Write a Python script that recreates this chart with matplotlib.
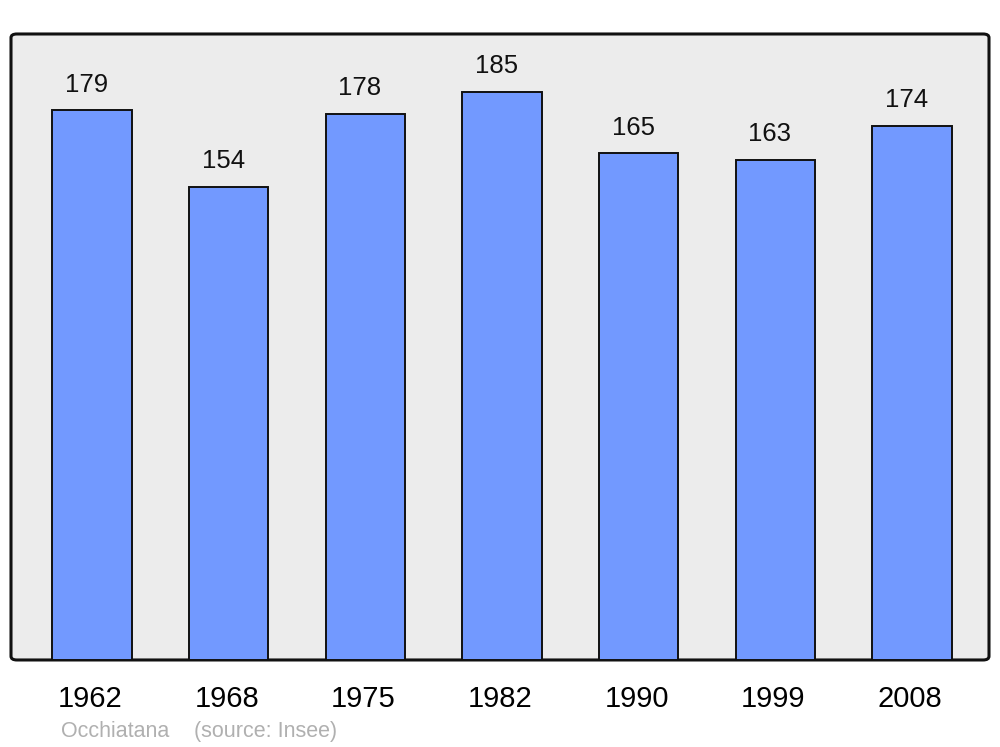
import matplotlib.pyplot as plt
import matplotlib.transforms as mtransforms
from matplotlib.patches import FancyBboxPatch

years = ['1962', '1968', '1975', '1982', '1990', '1999', '2008']
population = [179, 154, 178, 185, 165, 163, 174]
commune = 'Occhiatana'
source = '(source: Insee)'

plt.rcParams['font.family'] = ['Liberation Sans', 'DejaVu Sans']

fig = plt.figure(figsize=(10, 7.47), dpi=100)
ax = fig.add_axes([0.011, 0.1165, 0.978, 0.838])

# background with rounded frame
ax.patch.set_visible(False)
frame = FancyBboxPatch((0, 0), 1, 1, boxstyle='round,pad=0,rounding_size=0.006',
                       transform=ax.transAxes, facecolor='#ececec', edgecolor='#111111',
                       linewidth=2.2, zorder=0, clip_on=False)
ax.add_patch(frame)
for s in ax.spines.values():
    s.set_visible(False)

x = list(range(len(years)))
bars = ax.bar(x, population, width=0.58, color='#7299ff', edgecolor='#111111',
              linewidth=1.4, zorder=2)

for xi, v in zip(x, population):
    ax.annotate(str(v), (xi, v), xytext=(-4, 13.5), textcoords='offset points',
                ha='center', va='baseline', fontsize=18.5, color='#111111')

ax.set_xlim(-0.593, 6.563)
ax.set_ylim(0, 203.9)
ax.set_yticks([])
ax.set_xticks(x)
ax.set_xticklabels(years, fontsize=21, color='#000000')
ax.tick_params(axis='x', length=0, pad=18)
shift = mtransforms.ScaledTranslation(-2 / 100, 0, fig.dpi_scale_trans)
for lbl in ax.get_xticklabels():
    lbl.set_transform(lbl.get_transform() + shift)

fig.text(0.061, 0.0134, commune, fontsize=15.5, color='#b0b0b0', ha='left', va='baseline')
fig.text(0.194, 0.0134, source, fontsize=15.5, color='#b0b0b0', ha='left', va='baseline')

fig.savefig('out.png', dpi=100)
